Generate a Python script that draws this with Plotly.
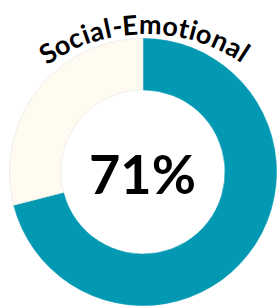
import math
import plotly.graph_objects as go

W, H = 277, 306

labels = ["Social-Emotional", "Remaining"]
values = [71, 29]
colors = ["#0399b3", "#fffbf1"]
title_text = "Social-Emotional"
center_text = "71%"

# approximate advance widths (em) for the title font
char_w = {"S": .52, "o": .57, "c": .48, "i": .254, "a": .52, "l": .254, "-": .37,
          "E": .585, "m": .836, "t": .373, "n": .575}

cx, cy = 143.0, 172.0
R = 133.5

fig = go.Figure(go.Pie(
    labels=labels, values=values, sort=False, direction="clockwise", rotation=0,
    hole=0.615, textinfo="none", hoverinfo="skip", showlegend=False,
    marker=dict(colors=colors, line=dict(color=["#0399b3", "#e2e2e2"], width=0.6)),
    domain=dict(x=[(cx - R) / W, (cx + R) / W], y=[1 - (cy + R) / H, 1 - (cy - R) / H]),
))

# curved title: letter centres spread along a flat arc above the ring
tx, ty, r_txt = 145.5, 205.0, 181.5
track = 0.04
ws = [char_w.get(ch, .5) + track for ch in title_text]
cum = []
s = 0
for w in ws:
    cum.append(s + w / 2)
    s += w
first, last = cum[0], cum[-1]
a0, a1 = -32.7, 33.0
annotations = []
for ch, c in zip(title_text, cum):
    ang = a0 + (c - first) / (last - first) * (a1 - a0)
    t = math.radians(ang)
    px = tx + r_txt * math.sin(t)
    py = ty - r_txt * math.cos(t)
    annotations.append(dict(
        text=ch, x=px / W, y=1 - py / H, xref="paper", yref="paper",
        xanchor="center", yanchor="middle", showarrow=False, textangle=ang,
        font=dict(family="Lato", size=27, color="#000000", weight="bold"),
    ))

annotations.append(dict(
    text=center_text, x=142.5 / W, y=1 - 173 / H, xref="paper", yref="paper",
    xanchor="center", yanchor="middle", showarrow=False,
    font=dict(family="Lato", size=54, color="#000000", weight="bold"),
))

fig.update_layout(
    width=W, height=H, margin=dict(l=0, r=0, t=0, b=0),
    paper_bgcolor="#ffffff", plot_bgcolor="#ffffff",
    annotations=annotations,
)

fig.write_html("out.html", config={"displayModeBar": False},
               post_script="document.body.style.margin='0';")
